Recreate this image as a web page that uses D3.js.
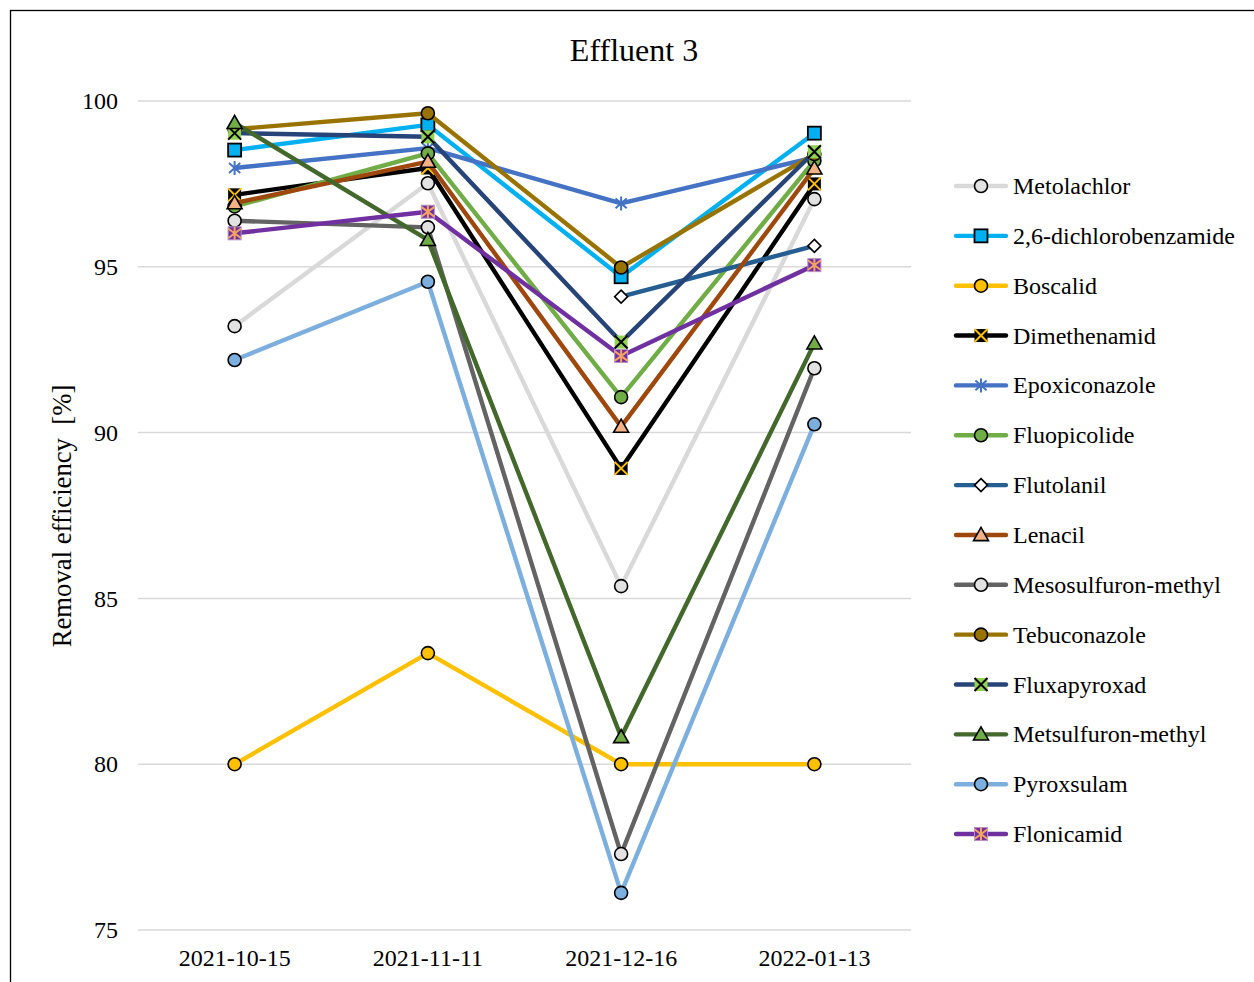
<!DOCTYPE html>
<html>
<head>
<meta charset="utf-8">
<script src="https://cdn.jsdelivr.net/npm/d3@7"></script>
<style>
  html, body { margin: 0; padding: 0; background: #fff; }
  svg { display: block; font-family: "Liberation Serif", "Times New Roman", serif; }
</style>
</head>
<body>
<svg id="chart" width="1254" height="982"></svg>
<script>
// Sampling dates
const dates = ["2021-10-15", "2021-11-11", "2021-12-16", "2022-01-13"];
const yTicks = [75, 80, 85, 90, 95, 100];

// Removal efficiency [%] per compound
const metolachlor      = [93.21, 97.52, 85.37, 97.04];
const dichlorobenzamide = [98.52, 99.28, 94.70, 99.03];
const boscalid         = [80.0, 83.35, 80.0, 80.0];
const dimethenamid     = [97.17, 97.98, 88.92, 97.50];
const epoxiconazole    = [97.98, 98.58, 96.91, 98.30];
const fluopicolide     = [96.82, 98.42, 91.07, 98.20];
const flutolanil       = [null, null, 94.10, 95.63];
const lenacil          = [96.92, 98.17, 90.18, 97.97];
const mesosulfuron     = [96.39, 96.19, 77.29, 91.94];
const tebuconazole     = [99.15, 99.63, 94.98, 98.40];
const fluxapyroxad     = [99.03, 98.92, 92.73, 98.47];
const metsulfuron      = [99.34, 95.81, 80.82, 92.69];
const pyroxsulam       = [92.19, 94.55, 76.12, 90.25];
const flonicamid       = [96.01, 96.66, 92.31, 95.05];

const seriesNames = ["Metolachlor", "2,6-dichlorobenzamide", "Boscalid", "Dimethenamid",
  "Epoxiconazole", "Fluopicolide", "Flutolanil", "Lenacil", "Mesosulfuron-methyl",
  "Tebuconazole", "Fluxapyroxad", "Metsulfuron-methyl", "Pyroxsulam", "Flonicamid"];
const seriesValues = [metolachlor, dichlorobenzamide, boscalid, dimethenamid,
  epoxiconazole, fluopicolide, flutolanil, lenacil, mesosulfuron,
  tebuconazole, fluxapyroxad, metsulfuron, pyroxsulam, flonicamid];

// Line colour, marker shape, marker fill, marker inner-glyph colour
const styles = [
  {line: "#d9d9d9", shape: "circle",   fill: "#e2e2e2"},
  {line: "#00b0f0", shape: "square",   fill: "#00b0f0"},
  {line: "#ffc000", shape: "circle",   fill: "#ffc000"},
  {line: "#000000", shape: "squareX",  fill: "#000000", glyph: "#ffc000"},
  {line: "#4472c4", shape: "star",     fill: "none",    glyph: "#4472c4"},
  {line: "#70ad47", shape: "circle",   fill: "#70ad47"},
  {line: "#255e91", shape: "diamond",  fill: "#ffffff"},
  {line: "#9e480e", shape: "triangle", fill: "#f4b183"},
  {line: "#636363", shape: "circle",   fill: "#e2e2e2"},
  {line: "#997300", shape: "circle",   fill: "#997300"},
  {line: "#264478", shape: "squareX",  fill: "#92d050", glyph: "#000000"},
  {line: "#43682b", shape: "triangle", fill: "#70ad47"},
  {line: "#7cafdd", shape: "circle",   fill: "#7cafdd"},
  {line: "#7030a0", shape: "squareStar", fill: "#7030a0", glyph: "#f4a460"}
];

const svg = d3.select("#chart");
const serif = "Liberation Serif, Times New Roman, serif";

// Outer chart border
svg.append("rect").attr("x", 10.5).attr("y", 10.5).attr("width", 1260).attr("height", 990)
  .attr("fill", "#fff").attr("stroke", "#000").attr("stroke-width", 1.3);

const plot = {left: 138, right: 911, top: 101, bottom: 930};

const x = d3.scaleBand().domain(dates).range([plot.left, plot.right]);
const y = d3.scaleLinear().domain([75, 100]).range([plot.bottom, plot.top]);
const cx = d => x(d) + x.bandwidth() / 2;

// Gridlines
svg.append("g").selectAll("line").data(yTicks).join("line")
  .attr("x1", plot.left).attr("x2", plot.right)
  .attr("y1", d => y(d)).attr("y2", d => y(d))
  .attr("stroke", "#d9d9d9").attr("stroke-width", 1.5);

// Y axis labels
const yAxis = d3.axisLeft(y).tickValues(yTicks).tickSize(0).tickPadding(20);
svg.append("g").attr("transform", `translate(${plot.left},0)`).call(yAxis)
  .call(g => g.select(".domain").remove())
  .call(g => g.selectAll("text").attr("font-size", 24).attr("fill", "#000")
    .attr("font-family", serif));

// X axis labels
const xAxis = d3.axisBottom(x).tickSize(0).tickPadding(19);
svg.append("g").attr("transform", `translate(0,${plot.bottom})`).call(xAxis)
  .call(g => g.select(".domain").remove())
  .call(g => g.selectAll("text").attr("font-size", 24).attr("fill", "#000")
    .attr("font-family", serif));

// Title
svg.append("text").attr("x", 634).attr("y", 61).attr("text-anchor", "middle")
  .attr("font-size", 32).text("Effluent 3");

// Y axis title
svg.append("text").attr("transform", "translate(71,516) rotate(-90)")
  .attr("text-anchor", "middle").attr("font-size", 26.7).attr("xml:space", "preserve")
  .text("Removal efficiency  [%]");

// Marker drawing
function drawMarker(g, st, px, py) {
  const s = 6.5;
  if (st.shape === "circle") {
    g.append("circle").attr("cx", px).attr("cy", py).attr("r", s)
      .attr("fill", st.fill).attr("stroke", "#000").attr("stroke-width", 1.6);
  } else if (st.shape === "square") {
    g.append("rect").attr("x", px - s).attr("y", py - s).attr("width", 2 * s).attr("height", 2 * s)
      .attr("fill", st.fill).attr("stroke", "#000").attr("stroke-width", 1.8);
  } else if (st.shape === "squareX") {
    g.append("rect").attr("x", px - s).attr("y", py - s).attr("width", 2 * s).attr("height", 2 * s)
      .attr("fill", st.fill);
    g.append("path").attr("d", `M${px - s},${py - s}L${px + s},${py + s}M${px + s},${py - s}L${px - s},${py + s}`)
      .attr("stroke", st.glyph).attr("stroke-width", 2);
  } else if (st.shape === "star") {
    const r = 7;
    g.append("path").attr("d",
      `M${px},${py - r}L${px},${py + r}M${px - r * 0.8},${py - r * 0.7}L${px + r * 0.8},${py + r * 0.7}M${px + r * 0.8},${py - r * 0.7}L${px - r * 0.8},${py + r * 0.7}`)
      .attr("stroke", st.glyph).attr("stroke-width", 2).attr("fill", "none");
  } else if (st.shape === "squareStar") {
    g.append("rect").attr("x", px - s).attr("y", py - s).attr("width", 2 * s).attr("height", 2 * s)
      .attr("fill", st.fill).attr("stroke", "#b58fd0").attr("stroke-width", 1);
    const r = 6.5;
    g.append("path").attr("d",
      `M${px},${py - r}L${px},${py + r}M${px - r},${py - r * 0.75}L${px + r},${py + r * 0.75}M${px + r},${py - r * 0.75}L${px - r},${py + r * 0.75}`)
      .attr("stroke", st.glyph).attr("stroke-width", 2).attr("fill", "none");
  } else if (st.shape === "diamond") {
    const r = 6.5;
    g.append("path").attr("d", `M${px},${py - r}L${px + r},${py}L${px},${py + r}L${px - r},${py}Z`)
      .attr("fill", st.fill).attr("stroke", "#000").attr("stroke-width", 1.6);
  } else if (st.shape === "triangle") {
    const r = 7.5;
    g.append("path").attr("d", `M${px},${py - r}L${px + r},${py + r * 0.75}L${px - r},${py + r * 0.75}Z`)
      .attr("fill", st.fill).attr("stroke", "#000").attr("stroke-width", 1.6);
  }
}

// Series lines and markers, drawn in legend order
const line = d3.line().defined(d => d.v !== null).x(d => cx(d.date)).y(d => y(d.v));
seriesValues.forEach((vals, i) => {
  const st = styles[i];
  const pts = vals.map((v, j) => ({date: dates[j], v}));
  const g = svg.append("g").attr("class", "series");
  g.append("path").datum(pts).attr("d", line).attr("fill", "none")
    .attr("stroke", st.line).attr("stroke-width", 4.4).attr("stroke-linejoin", "round");
  pts.filter(p => p.v !== null).forEach(p => drawMarker(g, st, cx(p.date), y(p.v)));
});

// Legend
const legend = svg.append("g");
seriesNames.forEach((name, i) => {
  const st = styles[i];
  const ly = 186 + i * 49.85;
  const g = legend.append("g");
  g.append("line").attr("x1", 956).attr("x2", 1006).attr("y1", ly).attr("y2", ly)
    .attr("stroke", st.line).attr("stroke-width", 4.4).attr("stroke-linecap", "round");
  drawMarker(g, st, 981, ly);
  g.append("text").attr("x", 1013).attr("y", ly + 8).attr("font-size", 24).text(name);
});
</script>
</body>
</html>
